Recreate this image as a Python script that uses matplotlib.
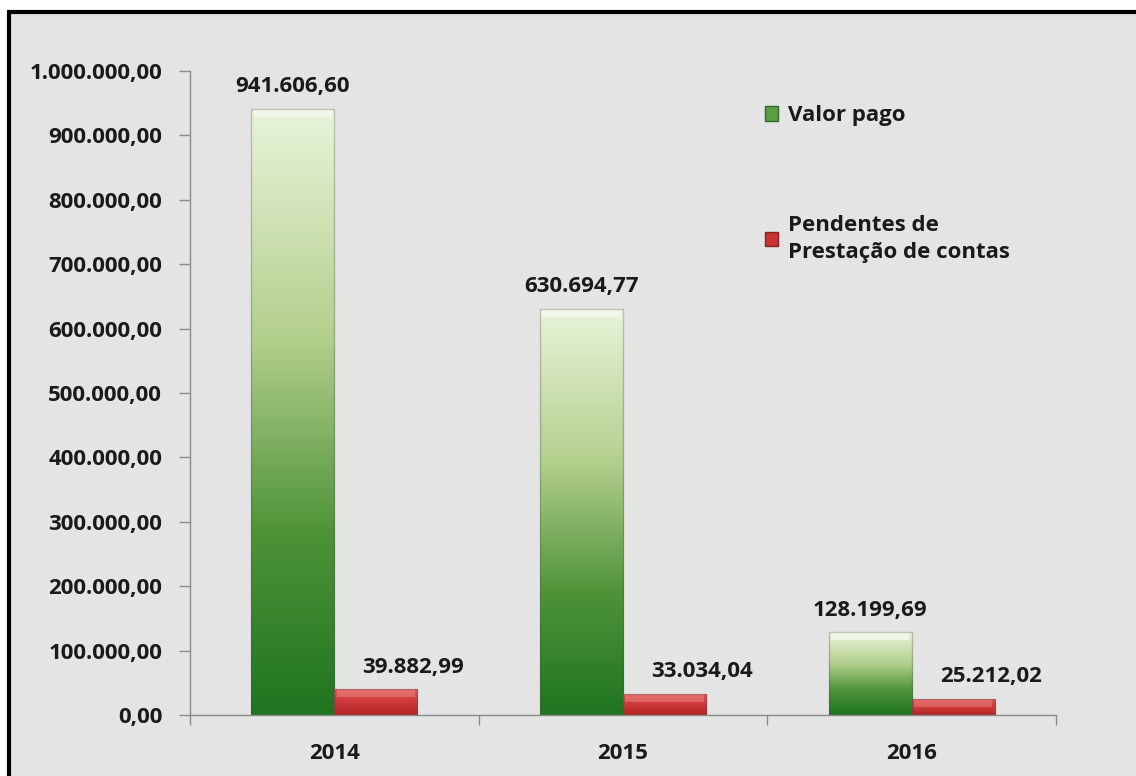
import numpy as np
import matplotlib
matplotlib.use("Agg")
import matplotlib.pyplot as plt
from matplotlib.colors import LinearSegmentedColormap
from matplotlib.patches import Patch, Rectangle

# data
years = ["2014", "2015", "2016"]
valor_pago = [941606.60, 630694.77, 128199.69]
pendentes = [39882.99, 33034.04, 25212.02]
series_labels = ["Valor pago", "Pendentes de\nPrestação de contas"]
yticks = np.arange(0, 1000001, 100000)


def br_fmt(v):
    # 1234567.8 -> 1.234.567,80
    s = f"{v:,.2f}"
    return s.replace(",", "X").replace(".", ",").replace("X", ".")


plt.rcParams["font.family"] = ["Open Sans", "DejaVu Sans"]
plt.rcParams["font.weight"] = "bold"
FS = 16
TXT = "#1a1a1a"

green_cmap = LinearSegmentedColormap.from_list(
    "g", [(0, "#1f7520"), (0.3, "#4e9338"), (0.62, "#b3cf8c"), (1, "#e8f4da")])
red_cmap = LinearSegmentedColormap.from_list(
    "r", [(0, "#b42626"), (0.6, "#d23e3e"), (1, "#e25a5a")])

fig = plt.figure(figsize=(11.36, 7.76), dpi=100, facecolor="white")

# grey panel with black frame (top and left visible)
panel = Rectangle((9 / 1136, -0.1), 1.2, 1.1 - 12 / 776, transform=fig.transFigure,
                  facecolor="#e4e4e4", edgecolor="black", linewidth=3, zorder=0)
fig.add_artist(panel)

ax = fig.add_axes([190 / 1136, 1 - 715 / 776, 866 / 1136, (715 - 71) / 776])
ax.set_facecolor("none")

x = np.arange(len(years))
w = 0.288
px_y = 1e6 / 644  # data units per pixel (vertical)


def grad_bars(xs, vals, cmap, top_col, top_alpha):
    bars = ax.bar(xs, vals, width=w, align="edge", facecolor="none",
                  edgecolor=(0.3, 0.3, 0.3, 0.3), linewidth=1, zorder=3)
    grad = np.linspace(0, 1, 256).reshape(-1, 1)
    for b in bars:
        x0, h = b.get_x(), b.get_height()
        im = ax.imshow(grad, cmap=cmap, origin="lower", aspect="auto",
                       extent=(x0, x0 + w, 0, h), zorder=2)
        im.set_clip_path(b)
        # bevel highlight at the top of each bar
        band = 8 * px_y
        ax.add_patch(Rectangle((x0 + 0.008, h - band), w - 0.016, band,
                               facecolor=top_col, edgecolor="none", alpha=top_alpha, zorder=2.5))
    return bars


grad_bars(x - w, valor_pago, green_cmap, "#f7fbf1", 0.7)
grad_bars(x, pendentes, red_cmap, "#f08c8c", 0.45)

for xi, v in zip(x, valor_pago):
    ax.annotate(br_fmt(v), (xi - w / 2, v), xytext=(0, 16), textcoords="offset points",
                ha="center", va="center", fontsize=FS, color=TXT, fontweight="bold")
for xi, v in zip(x, pendentes):
    ax.annotate(br_fmt(v), (xi + w / 2, v), xytext=(27, 16), textcoords="offset points",
                ha="center", va="center", fontsize=FS, color=TXT, fontweight="bold")

ax.set_xlim(-0.5, len(years) - 0.5)
ax.set_ylim(0, 1000000)
ax.set_yticks(yticks)
ax.set_yticklabels([br_fmt(v) for v in yticks])
ax.set_xticks(np.arange(-0.5, len(years), 1.0))
ax.set_xticklabels([])
ax.set_xticks(x, minor=True)
ax.set_xticklabels(years, minor=True)

ax.tick_params(axis="y", which="major", length=8, width=1, color="#8a8a8a", pad=12,
               labelsize=FS, labelcolor=TXT)
ax.tick_params(axis="x", which="major", length=7, width=1, color="#8a8a8a")
ax.tick_params(axis="x", which="minor", length=0, pad=20, labelsize=FS, labelcolor=TXT)

for s in ["top", "right"]:
    ax.spines[s].set_visible(False)
for s in ["left", "bottom"]:
    ax.spines[s].set_color("#8a8a8a")
    ax.spines[s].set_linewidth(1)

handles = [Patch(facecolor="#5b9d45", edgecolor="#2f6a22"),
           Patch(facecolor="#c83434", edgecolor="#8a1f1f")]
leg = ax.legend(handles, series_labels, loc="upper left", bbox_to_anchor=(0.651, 0.964),
                frameon=False, labelspacing=4.0, handlelength=0.6,
                handleheight=0.6, handletextpad=0.45, borderpad=0, labelcolor=TXT,
                prop={"weight": "bold", "size": FS})
leg.get_texts()[1].set_linespacing(1.35)

fig.savefig("out.png", dpi=100, facecolor="white")
